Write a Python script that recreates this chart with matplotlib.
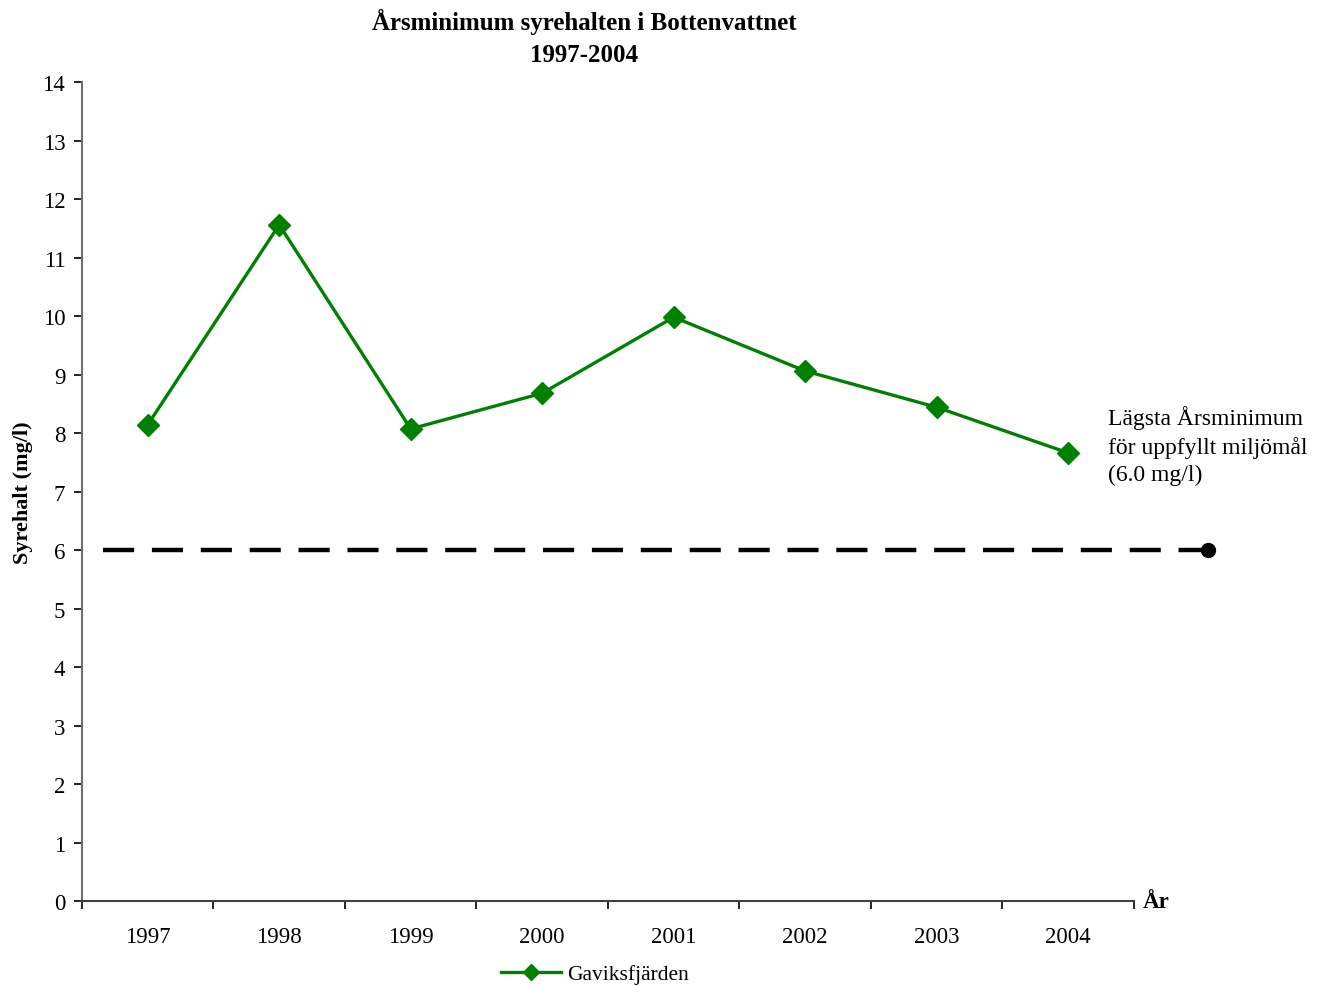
import matplotlib.pyplot as plt
from matplotlib.lines import Line2D

plt.rcParams['font.family'] = ['Liberation Serif', 'DejaVu Serif']

years = ['1997', '1998', '1999', '2000', '2001', '2002', '2003', '2004']
gaviksfjarden = [8.14, 11.56, 8.07, 8.68, 9.98, 9.06, 8.44, 7.66]
limit = 6.0

green = '#008000'

fig = plt.figure(figsize=(13.28, 9.87), dpi=100)
ax = fig.add_axes([0.0617, 0.0861, 0.7922, 0.8298])

x = list(range(len(years)))
ax.plot(x, gaviksfjarden, color=green, lw=2.4, marker='D', ms=11, label='Gaviksfjärden')

# miljömål line, drawn past the plot area with an end dot
ax.plot([-0.34, 8.06], [limit, limit], color='black', lw=3.2, ls=(0, (7, 4)), clip_on=False)
ax.plot([8.06], [limit], 'o', color='black', ms=10, clip_on=False)

ax.text(7.30, 7.79, 'Lägsta Årsminimum\nför uppfyllt miljömål\n(6.0 mg/l)', fontsize=17,
        va='center', ha='left', linespacing=1.38, clip_on=False)

ax.set_xlim(-0.5, len(years) - 0.5)
ax.set_ylim(0, 14)
ax.set_yticks(range(0, 15))
ax.tick_params(axis='y', labelsize=16.5, length=6, width=1.2, direction='out', pad=6)

ax.set_xticks([i - 0.5 for i in range(len(years) + 1)])
ax.set_xticklabels([])
ax.set_xticks(x, minor=True)
ax.set_xticklabels(years, minor=True)
ax.tick_params(axis='x', which='major', length=6, width=1.2, direction='out')
ax.tick_params(axis='x', which='minor', length=0, labelsize=16.5, pad=18)

for side in ['top', 'right']:
    ax.spines[side].set_visible(False)
ax.spines['left'].set_color('#707070')
ax.spines['bottom'].set_color('#404040')
ax.spines['left'].set_linewidth(1.5)
ax.spines['bottom'].set_linewidth(1.5)

ax.set_ylabel('Syrehalt (mg/l)', fontsize=16, fontweight='bold', labelpad=7)
ax.text(1.008, 0, 'År', transform=ax.transAxes, fontsize=16.5, fontweight='bold',
        va='center', ha='left')

fig.text(0.44, 0.9615, 'Årsminimum syrehalten i Bottenvattnet\n1997-2004', fontsize=18,
         fontweight='bold', ha='center', va='center', linespacing=1.55)

handle = Line2D([], [], color=green, lw=2.4, marker='D', ms=8)
fig.legend([handle], ['Gaviksfjärden'], loc='center', bbox_to_anchor=(0.448, 0.012),
           frameon=False, fontsize=15.5, handlelength=2.8, handletextpad=0.3)

fig.savefig('out.png', dpi=100)
